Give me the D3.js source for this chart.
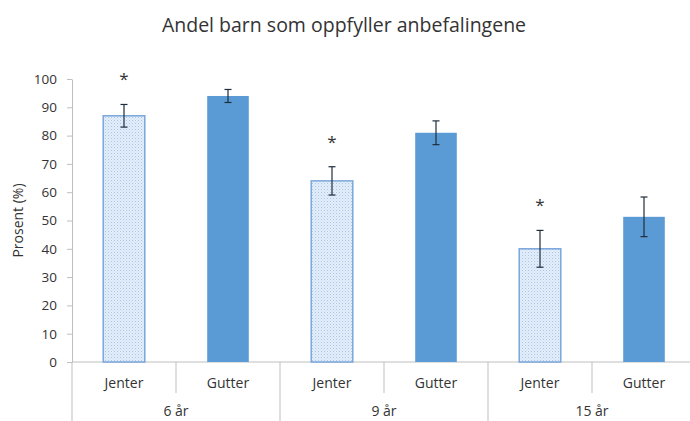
<!DOCTYPE html>
<html>
<head>
<meta charset="utf-8">
<script src="https://cdn.jsdelivr.net/npm/d3@7"></script>
<style>
  body { margin: 0; background: #fff; }
  text { font-family: "Open Sans", "Noto Sans", sans-serif; fill: #333; }
</style>
</head>
<body>
<div id="vis"></div>
<script>
// values
var groups = ['6 år', '9 år', '15 år'];
var sexes = ['Jenter', 'Gutter'];
var values = [87, 94, 64, 81, 40, 51.3];
var errors = [4, 2.3, 5, 4.2, 6.5, 7];
var starred = [true, false, true, false, true, false];
var yTicks = [0, 10, 20, 30, 40, 50, 60, 70, 80, 90, 100];

var width = 690;
var height = 421;
var margin = { left: 72, right: 0, top: 79, bottom: 59 };

var svg = d3.select('#vis')
    .append('svg')
    .attr('width', width)
    .attr('height', height);

var defs = svg.append('defs');
var pat = defs.append('pattern')
    .attr('id', 'dots')
    .attr('width', 3)
    .attr('height', 3)
    .attr('patternUnits', 'userSpaceOnUse');
pat.append('rect').attr('width', 3).attr('height', 3).attr('fill', '#e3eefa');
pat.append('rect').attr('x', 0).attr('y', 0).attr('width', 1).attr('height', 1).attr('fill', '#a9c6e8');
pat.append('rect').attr('x', 1.5).attr('y', 1.5).attr('width', 1).attr('height', 1).attr('fill', '#c3d8f0');

var bars = [];
groups.forEach((g, gi) => {
    sexes.forEach((s, si) => {
        var i = gi * 2 + si;
        bars.push({ id: i, group: g, sex: s, value: values[i], err: errors[i], star: starred[i] });
    });
});

// the plot runs a little past the right edge of the picture
var x = d3.scaleBand()
    .domain(bars.map((d) => d.id))
    .range([margin.left, 696])
    .paddingInner(0.6)
    .paddingOuter(0.3);
var step = x.step();

var y = d3.scaleLinear()
    .domain([0, 100])
    .range([height - margin.bottom, margin.top]);

// title
svg.append('text')
    .attr('x', 344)
    .attr('y', 32)
    .attr('text-anchor', 'middle')
    .style('font-size', '19.5px')
    .text('Andel barn som oppfyller anbefalingene');

// y axis
var yAxis = svg.append('g')
    .attr('transform', 'translate(' + margin.left + ',0)')
    .call(d3.axisLeft(y).tickValues(yTicks).tickSize(5).tickSizeOuter(0));
yAxis.select('.domain').attr('stroke', '#bfbfbf');
yAxis.selectAll('.tick line').attr('stroke', '#bfbfbf');
yAxis.selectAll('.tick text')
    .attr('x', -15)
    .style('font-size', '13.5px')
    .style('font-family', '"Open Sans", sans-serif')
    .attr('fill', '#333');

svg.append('text')
    .attr('transform', 'translate(23,' + y(50) + ') rotate(-90)')
    .attr('text-anchor', 'middle')
    .style('font-size', '14px')
    .text('Prosent (%)');

// x axis with two levels
var x0 = y(0);
svg.append('line')
    .attr('x1', margin.left).attr('x2', width)
    .attr('y1', x0).attr('y2', x0)
    .attr('stroke', '#bfbfbf');
svg.append('line')
    .attr('x1', margin.left).attr('x2', margin.left)
    .attr('y1', x0).attr('y2', height)
    .attr('stroke', '#bfbfbf');

bars.forEach((d) => {
    var left = x(d.id) - step * x.paddingInner() / 2;
    var right = left + step;
    var isGroupEnd = d.sex === 'Gutter';
    if (right < width) {
        svg.append('line')
            .attr('x1', right).attr('x2', right)
            .attr('y1', x0).attr('y2', isGroupEnd ? height : 393)
            .attr('stroke', '#bfbfbf');
    }
    svg.append('text')
        .attr('x', x(d.id) + x.bandwidth() / 2)
        .attr('y', 388)
        .attr('text-anchor', 'middle')
        .style('font-size', '14px')
        .text(d.sex);
});

groups.forEach((g, gi) => {
    var cx = (x(gi * 2) + x(gi * 2 + 1) + x.bandwidth()) / 2;
    svg.append('text')
        .attr('x', cx)
        .attr('y', 416)
        .attr('text-anchor', 'middle')
        .style('font-size', '14px')
        .text(g);
});

// bars
svg.selectAll('.bar')
    .data(bars)
    .enter()
    .append('rect')
    .classed('bar', true)
    .attr('x', (d) => x(d.id))
    .attr('y', (d) => y(d.value))
    .attr('width', x.bandwidth())
    .attr('height', (d) => y(0) - y(d.value))
    .attr('fill', (d) => d.sex === 'Jenter' ? 'url(#dots)' : '#5b9bd5')
    .attr('stroke', (d) => d.sex === 'Jenter' ? '#7aa6db' : 'none')
    .attr('stroke-width', 1.5);

// error bars
var eb = svg.selectAll('.err')
    .data(bars)
    .enter()
    .append('g')
    .classed('err', true)
    .attr('stroke', '#1f2d3d')
    .attr('stroke-width', 1.2);
eb.append('line')
    .attr('x1', (d) => x(d.id) + x.bandwidth() / 2)
    .attr('x2', (d) => x(d.id) + x.bandwidth() / 2)
    .attr('y1', (d) => y(d.value + d.err))
    .attr('y2', (d) => y(d.value - d.err));
eb.append('line')
    .attr('x1', (d) => x(d.id) + x.bandwidth() / 2 - 3.5)
    .attr('x2', (d) => x(d.id) + x.bandwidth() / 2 + 3.5)
    .attr('y1', (d) => y(d.value + d.err))
    .attr('y2', (d) => y(d.value + d.err));
eb.append('line')
    .attr('x1', (d) => x(d.id) + x.bandwidth() / 2 - 3.5)
    .attr('x2', (d) => x(d.id) + x.bandwidth() / 2 + 3.5)
    .attr('y1', (d) => y(d.value - d.err))
    .attr('y2', (d) => y(d.value - d.err));

// significance stars
svg.selectAll('.star')
    .data(bars.filter((d) => d.star))
    .enter()
    .append('text')
    .classed('star', true)
    .attr('x', (d) => x(d.id) + x.bandwidth() / 2)
    .attr('y', (d) => y(d.value + d.err) - 19)
    .attr('text-anchor', 'middle')
    .style('font-size', '17px')
    .text('*');
</script>
</body>
</html>
